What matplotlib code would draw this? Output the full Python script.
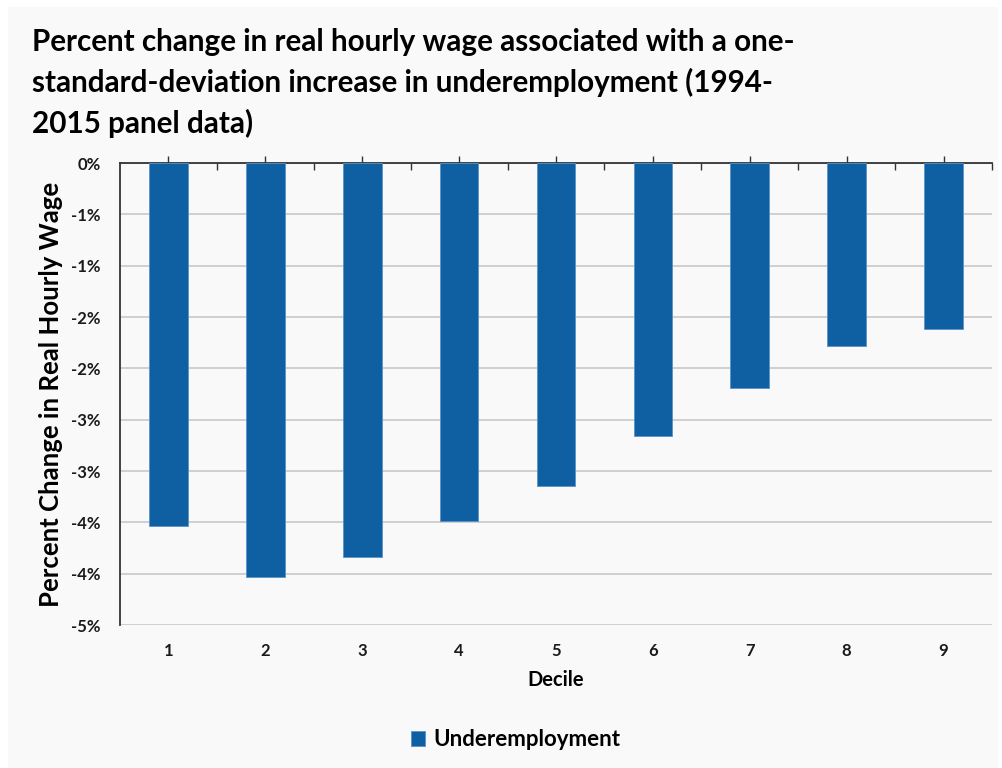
import math
import matplotlib
matplotlib.use("Agg")
import matplotlib.pyplot as plt
from matplotlib.patches import Rectangle
from matplotlib.ticker import FixedLocator, FuncFormatter

# Data
deciles = ["1", "2", "3", "4", "5", "6", "7", "8", "9"]
wage_change = [-3.54, -4.03, -3.84, -3.49, -3.15, -2.66, -2.19, -1.78, -1.62]
series_name = "Underemployment"
y_ticks = [0, -0.5, -1, -1.5, -2, -2.5, -3, -3.5, -4, -4.5]

title = ("Percent change in real hourly wage associated with a one-\n"
         "standard-deviation increase in underemployment (1994-\n"
         "2015 panel data)")

plt.rcParams['font.family'] = ['Lato', 'DejaVu Sans']
BLUE = "#0e60a3"

fig = plt.figure(figsize=(10.03, 7.68), dpi=100, facecolor="white")
# light grey panel behind everything
fig.patches.append(Rectangle((8 / 1003, 0), 990 / 1003, 761 / 768,
                             transform=fig.transFigure, facecolor="#f9f9f9",
                             edgecolor="none", zorder=-10))

ax = fig.add_axes([120 / 1003, 1 - 625 / 768, 872 / 1003, 462 / 768])
ax.set_facecolor("none")

x = list(range(len(deciles)))
ax.bar(x, wage_change, width=0.4, color=BLUE, edgecolor="#5b93c6",
       linewidth=0.6, label=series_name, zorder=3)

ax.set_xlim(-0.5, 8.5)
ax.set_ylim(-4.5, 0)

# y axis: Excel-style rounded percent labels
def pct(v, pos):
    if abs(v) < 1e-9:
        return "0%"
    return "-%d%%" % math.floor(abs(v) + 0.5)

ax.yaxis.set_major_locator(FixedLocator(y_ticks))
ax.yaxis.set_major_formatter(FuncFormatter(pct))
ax.tick_params(axis="y", length=0, pad=14, labelsize=12, labelcolor="#1a1a1a")
for lab in ax.get_yticklabels():
    lab.set_fontweight("bold")
ax.grid(axis="y", color="#cccccc", linewidth=1.3, zorder=0)

# x axis line sits at zero (top), labels at bottom
ax.set_xticks(x)
ax.set_xticklabels(deciles, fontweight="bold", fontsize=12, color="#1a1a1a")
ax.set_xticks([i + 0.5 for i in range(len(deciles))], minor=True)
ax.tick_params(axis="x", which="major", bottom=False, top=True, direction="out",
               length=5, width=1, color="#333333", labelbottom=True, labeltop=False,
               pad=8)
ax.tick_params(axis="x", which="minor", bottom=False, top=True, direction="in",
               length=5, width=1, color="#333333")

ax.spines["right"].set_visible(False)
ax.spines["bottom"].set_visible(False)
ax.spines["top"].set_color("#333333")
ax.spines["top"].set_linewidth(1.3)
ax.spines["left"].set_color("#333333")
ax.spines["left"].set_linewidth(1.3)

ax.set_xlabel("Decile", fontsize=14.5, fontweight="bold", labelpad=8)
ax.set_ylabel("Percent Change in Real Hourly Wage", fontsize=18.5,
              fontweight="bold", labelpad=6)

fig.text(32 / 1003, 1 - 28 / 768, title, fontsize=21.3, fontweight="bold",
         va="top", ha="left", linespacing=1.5)

fig.legend(loc="center", bbox_to_anchor=(0.514, 1 - 740 / 768), frameon=False,
           prop={"weight": "bold", "size": 16}, handlelength=0.65,
           handleheight=0.65, handletextpad=0.35)

fig.savefig("out.png", dpi=100, facecolor=fig.get_facecolor())
